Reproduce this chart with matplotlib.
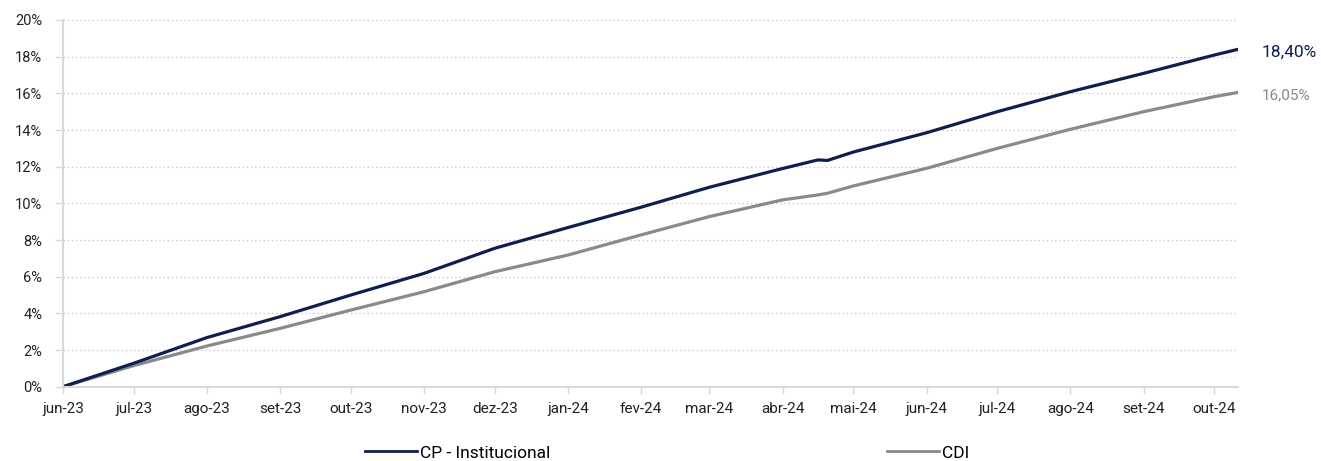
import pandas as pd
import numpy as np
import matplotlib
matplotlib.use('Agg')
import matplotlib.pyplot as plt
from matplotlib.lines import Line2D

plt.rcParams['font.family'] = ['Roboto', 'DejaVu Sans']

# values (accumulated %)
dates = ['2023-06-01', '2023-07-01', '2023-08-01', '2023-09-01', '2023-10-01',
         '2023-11-01', '2023-12-01', '2024-01-01', '2024-02-01', '2024-03-01',
         '2024-04-01', '2024-04-16', '2024-04-20', '2024-05-01', '2024-06-01',
         '2024-07-01', '2024-08-01', '2024-09-01', '2024-10-01', '2024-10-11']
cp_values = [0.00, 1.28, 2.68, 3.82, 5.00, 6.18, 7.55, 8.68, 9.79, 10.88,
             11.90, 12.37, 12.34, 12.80, 13.85, 15.00, 16.09, 17.09, 18.09, 18.40]
cdi_values = [0.00, 1.15, 2.22, 3.18, 4.18, 5.18, 6.27, 7.18, 8.28, 9.28,
              10.19, 10.46, 10.55, 10.95, 11.91, 13.00, 14.04, 15.00, 15.82, 16.05]

month_ticks = ['2023-06-01', '2023-07-01', '2023-08-01', '2023-09-01', '2023-10-01',
               '2023-11-01', '2023-12-01', '2024-01-01', '2024-02-01', '2024-03-01',
               '2024-04-01', '2024-05-01', '2024-06-01', '2024-07-01', '2024-08-01',
               '2024-09-01', '2024-10-01']
month_labels = ['jun-23', 'jul-23', 'ago-23', 'set-23', 'out-23', 'nov-23', 'dez-23',
                'jan-24', 'fev-24', 'mar-24', 'abr-24', 'mai-24', 'jun-24', 'jul-24',
                'ago-24', 'set-24', 'out-24']
y_ticks = [0, 2, 4, 6, 8, 10, 12, 14, 16, 18, 20]

navy = '#0f1f4d'
gray = '#8a8a8a'
axis_gray = '#d9d9d9'

x = pd.to_datetime(dates)

fig = plt.figure(figsize=(13.21, 4.61), dpi=100)
ax = fig.add_axes([63/1321, 1-386.7/461, (1238-63)/1321, (386.7-20)/461])

ax.plot(x, cdi_values, color=gray, lw=2.3, solid_capstyle='round')
ax.plot(x, cp_values, color=navy, lw=2.3, solid_capstyle='round')

ax.set_xlim(x[0], x[-1])
ax.set_ylim(0, 20)

ax.set_yticks(y_ticks)
ax.set_yticklabels(['%d%%' % v for v in y_ticks])
ax.set_xticks(pd.to_datetime(month_ticks))
ax.set_xticklabels(month_labels)

ax.grid(axis='y', color='#c8c8c8', linestyle=(0, (1, 2)), lw=1.0)
ax.set_axisbelow(True)

for s in ['top', 'right']:
    ax.spines[s].set_visible(False)
for s in ['left', 'bottom']:
    ax.spines[s].set_color(axis_gray)
    ax.spines[s].set_linewidth(1.5)

ax.tick_params(axis='y', length=6, width=1.0, color=axis_gray, pad=9,
               labelsize=10.5, labelcolor='#222222')
ax.tick_params(axis='x', length=5, width=1.0, color=axis_gray, pad=6,
               labelsize=11, labelcolor='#222222')

# end labels
ax.annotate('18,40%', xy=(x[-1], cp_values[-1]), xytext=(17, -2), textcoords='offset points',
            color=navy, fontsize=12.5, va='center', ha='left', annotation_clip=False)
ax.annotate('16,05%', xy=(x[-1], cdi_values[-1]), xytext=(17, -2), textcoords='offset points',
            color=gray, fontsize=11, va='center', ha='left', annotation_clip=False)

# legend: two entries spread out below
h1 = Line2D([], [], color=navy, lw=2.0)
h2 = Line2D([], [], color=gray, lw=2.0)
fig.legend([h1], ['CP - Institucional'], loc='center left', bbox_to_anchor=(365/1321, 1-453/461),
           frameon=False, fontsize=12.5, handlelength=3.0, handletextpad=0.15,
           borderaxespad=0, borderpad=0)
fig.legend([h2], ['CDI'], loc='center left', bbox_to_anchor=(887/1321, 1-453/461),
           frameon=False, fontsize=12.5, handlelength=3.0, handletextpad=0.15,
           borderaxespad=0, borderpad=0)

fig.savefig('out.png', dpi=100)
